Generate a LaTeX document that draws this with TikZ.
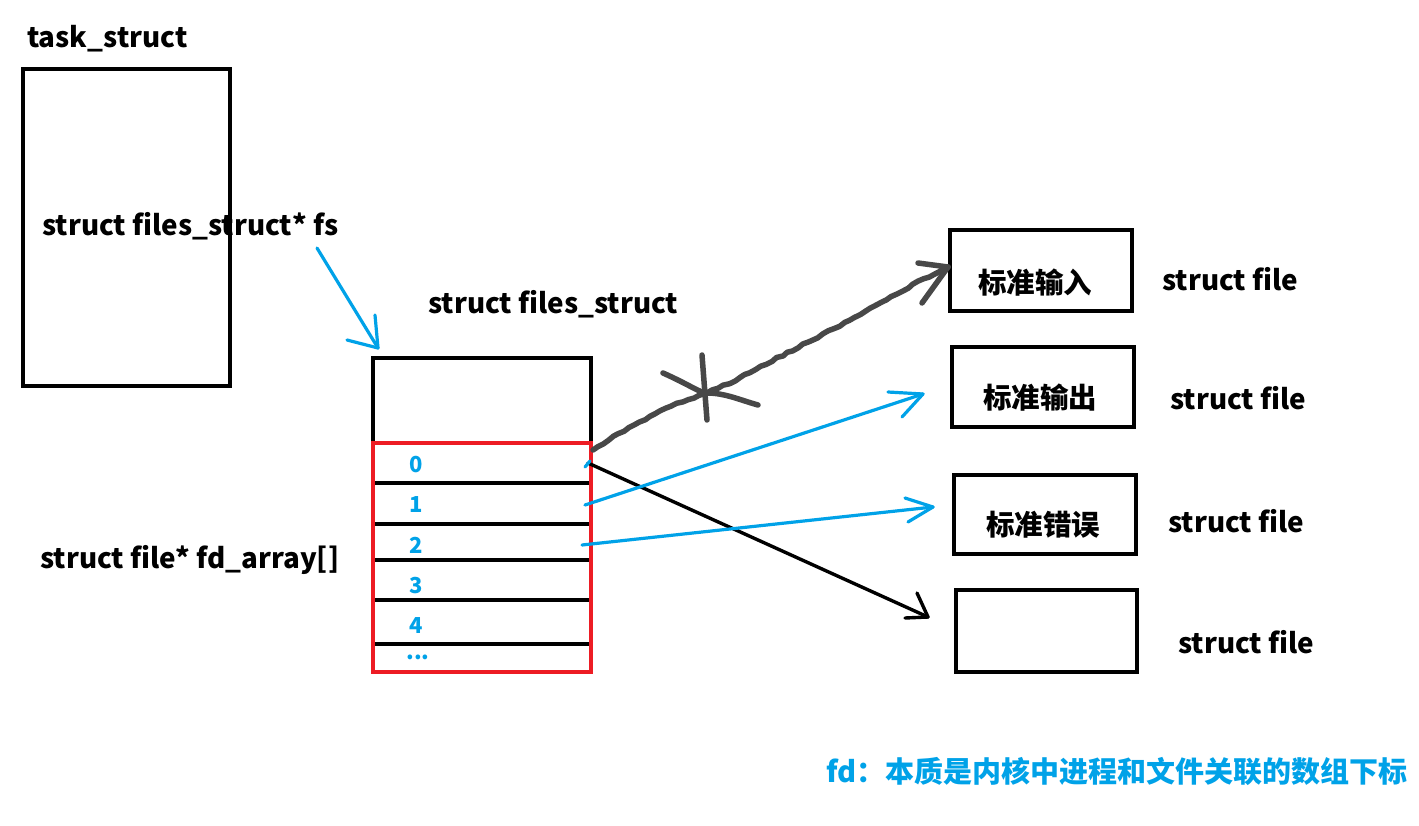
\documentclass[tikz,border=0pt]{standalone}
\usepackage{fontspec}
\setmainfont{Noto Sans CJK SC}
\usetikzlibrary{decorations.pathmorphing}
\definecolor{cblue}{RGB}{0,162,232}
\definecolor{cgray}{RGB}{72,72,72}
\definecolor{cred}{RGB}{237,28,36}
\begin{document}
\begin{tikzpicture}[x=1pt,y=-1pt,
  box/.style={draw=black, line width=3.5pt, inner sep=0pt},
  lbl/.style={font=\fontsize{27.8}{32}\selectfont\bfseries, inner sep=0pt},
  cjkl/.style={font=\fontsize{28.5}{32}\selectfont\bfseries, inner sep=0pt},
  notel/.style={font=\fontsize{29}{33}\selectfont\bfseries, text=cblue, inner sep=0pt},
  num/.style={font=\fontsize{22}{26}\selectfont\bfseries, text=cblue, inner sep=0pt},
  bluearrow/.style={draw=cblue, line width=3.2pt, line cap=round, line join=round},
  blackarrow/.style={draw=black, line width=3.4pt, line cap=round, line join=round},
  grayarrow/.style={draw=cgray, line width=5.5pt, line cap=round, line join=round},
  rough/.style={decorate, decoration={random steps, segment length=6pt, amplitude=0.9pt}},
  rowline/.style={draw=black, line width=3.5pt}]
\pgfmathsetseed{7}
\useasboundingbox[fill=white] (0,0) rectangle (1419,825);

% task_struct
\node[lbl, anchor=base west] (tasklbl) at (27,47) {task\_struct};
\node[box, minimum width=207pt, minimum height=317pt] (task) at (126.5,227.5) {};
\node[lbl, anchor=base west] (fslbl) at (42,235) {struct files\_struct* fs};

% files_struct
\node[lbl, anchor=base west] (fileslbl) at (428,313) {struct files\_struct};
\node[box, minimum width=218pt, minimum height=85pt] (ftop) at (482,400.5) {};
\foreach \yy in {483,524,560,600,644} {\draw[rowline] (373,\yy) -- (591,\yy);}
\node[draw=cred, line width=3.5pt, inner sep=0pt, minimum width=218pt, minimum height=229pt] (fdarr) at (482,557.5) {};
\node[lbl, anchor=base west] (fdlbl) at (40,568) {struct file* fd\_array[]};
\node[num] (n0) at (416,465) {0};
\node[num] (n1) at (416,505) {1};
\node[num] (n2) at (416,545) {2};
\node[num] (n3) at (416,586) {3};
\node[num] (n4) at (416,626) {4};
\node[num] (n5) at (418,657) {...};

% right boxes
\node[box, minimum width=182pt, minimum height=81pt] (f0) at (1041,270.5) {};
\node[cjkl] (t0) at (1035,283) {标准输入};
\node[lbl, anchor=base west] (s0) at (1162,290) {struct file};
\node[box, minimum width=182pt, minimum height=80pt] (f1) at (1043,387) {};
\node[cjkl] (t1) at (1040,398) {标准输出};
\node[lbl, anchor=base west] (s1) at (1170,409) {struct file};
\node[box, minimum width=182pt, minimum height=79pt] (f2) at (1045,514.5) {};
\node[cjkl] (t2) at (1043,525) {标准错误};
\node[lbl, anchor=base west] (s2) at (1168,532) {struct file};
\node[box, minimum width=181pt, minimum height=82pt] (f3) at (1046.5,631) {};
\node[lbl, anchor=base west] (s3) at (1178,653) {struct file};

% bottom note
\node[notel, anchor=west] (note) at (826,771) {fd：本质是内核中进程和文件关联的数组下标};

% coordinates
\coordinate (fsA) at (317,248);
\coordinate (fsB) at (378,348);
\coordinate (g0) at (593,450);
\coordinate (g1) at (707,393);
\coordinate (g2) at (813,340);
\coordinate (g3) at (948,267);
\coordinate (b0) at (588,463);
\coordinate (b0t) at (928,617);
\coordinate (u1) at (585,505);
\coordinate (u1t) at (923,394);
\coordinate (u2) at (582,545);
\coordinate (u2t) at (933,507);

% fs pointer
\draw[bluearrow] (fsA) -- (fsB);
\draw[bluearrow] (fsB) -- ++(-31,-8);
\draw[bluearrow] (fsB) -- ++(-3,-33);

% gray (crossed) arrow
\draw[grayarrow, rough] (g0) .. controls (640,420) and (670,405) .. (g1) .. controls (750,375) and (780,355) .. (g2) .. controls (860,315) and (900,290) .. (g3);
\draw[grayarrow] (g3) -- ++(-30,-4);
\draw[grayarrow] (g3) -- ++(-26,36);
\draw[grayarrow] (702,355) -- (707,420);
\draw[grayarrow] (663,373) .. controls (690,385) and (700,393) .. (g1) .. controls (725,393) and (740,400) .. (758,405);

% fd 0 -> file
\draw[blackarrow] (b0) -- (b0t);
\draw[blackarrow] (b0t) -- ++(-11,-24);
\draw[blackarrow] (b0t) -- ++(-23,1);
\draw[bluearrow] (585,467) -- (590,461);

% fd 1 -> stdout
\draw[bluearrow] (u1) -- (u1t);
\draw[bluearrow] (u1t) -- ++(-35,-2);
\draw[bluearrow] (u1t) -- ++(-21,23);

% fd 2 -> stderr
\draw[bluearrow] (u2) -- (u2t);
\draw[bluearrow] (u2t) -- ++(-28,-9);
\draw[bluearrow] (u2t) -- ++(-25,15);
\end{tikzpicture}
\end{document}
